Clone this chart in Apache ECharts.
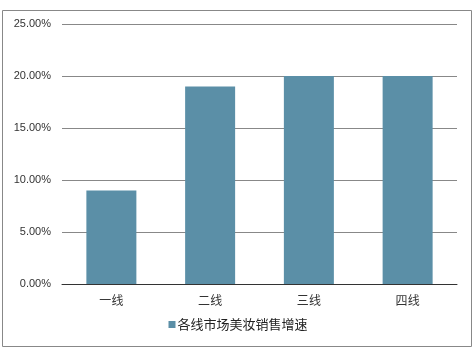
<!DOCTYPE html>
<html><head><meta charset="utf-8">
<script src="https://cdn.jsdelivr.net/npm/echarts@6/dist/echarts.min.js"></script>
<style>html,body{margin:0;padding:0;background:#fff}#c{width:476px;height:352px}</style>
</head><body><div id="c"></div>
<script>
var categories = ['一线', '二线', '三线', '四线'];
var growth = [9, 19, 20, 20];
var seriesName = '各线市场美妆销售增速';
var yTicks = [0, 5, 10, 15, 20, 25];

var chart = echarts.init(document.getElementById('c'));
chart.setOption({
  animation: false,
  textStyle: { fontFamily: 'Liberation Sans, "Noto Sans CJK SC", sans-serif' },
  graphic: [{ type: 'rect', shape: { x: 2.5, y: 10.5, width: 469, height: 336 },
    style: { fill: 'none', stroke: '#888', lineWidth: 1 }, silent: true }],
  grid: { left: 62, right: 19, top: 24, bottom: 68 },
  legend: { bottom: 16, left: 'center', itemWidth: 7, itemHeight: 7, icon: 'rect',
    textStyle: { fontSize: 13, color: '#222', padding: [0, 0, 0, -3], fontFamily: '"Noto Sans CJK SC", sans-serif' },
    data: [seriesName] },
  xAxis: { type: 'category', data: categories,
    axisLine: { lineStyle: { color: '#333', width: 1 } }, axisTick: { show: false },
    axisLabel: { color: '#333', fontSize: 12, margin: 10, fontFamily: '"Noto Sans CJK SC", sans-serif' } },
  yAxis: { type: 'value', min: yTicks[0], max: yTicks[yTicks.length - 1], interval: 5,
    axisLine: { show: false }, axisTick: { show: false },
    splitLine: { lineStyle: { color: '#888', width: 1 } },
    axisLabel: { color: '#333', fontSize: 11, margin: 11, formatter: function (v) { return v.toFixed(2) + '%'; } } },
  series: [{ name: seriesName, type: 'bar', data: growth, barWidth: 50,
    itemStyle: { color: '#5b8fa7' } }]
});
</script></body></html>
